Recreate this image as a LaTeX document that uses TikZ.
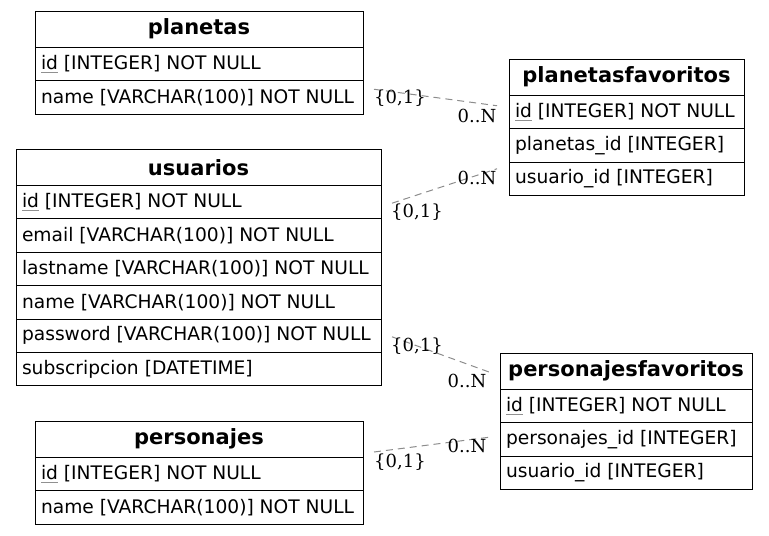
\documentclass[tikz,border=0pt]{standalone}
\usepackage{fontspec}
\setmainfont{DejaVu Sans}
\newfontfamily\serifam{DejaVu Serif}
\usetikzlibrary{calc}
\definecolor{edgegray}{HTML}{8C8C8C}
\definecolor{ulgray}{HTML}{909090}
\newcommand{\uid}{\setbox0\hbox{id}\rlap{\textcolor{ulgray}{\rule[-2.2pt]{\wd0}{0.6pt}}}id}
\tikzset{
  cell/.style={draw=black, line width=0.75pt, rectangle, anchor=north west, inner ysep=0pt, outer sep=0pt},
  hdr/.style 2 args={cell, minimum width=#1*0.75pt, minimum height=#2*0.75pt, inner xsep=0pt,
    font=\fontsize{15.75}{18}\selectfont\bfseries},
  fld/.style 2 args={cell, minimum width=#1*0.75pt, minimum height=#2*0.75pt, inner xsep=4.5pt,
    /utils/exec={\pgfmathsetlengthmacro\fldtw{(#1-12)*0.75pt}},
    execute at begin node={\hbox to \fldtw\bgroup},
    execute at end node={\hss\egroup},
    font=\fontsize{14}{16.8}\selectfont},
  rel/.style={draw=edgegray, line width=0.75pt, dash pattern=on 5.25pt off 3.75pt},
  lbl/.style={font=\serifam\fontsize{13.5}{16}\selectfont, inner sep=0pt}
}
\begin{document}
\begin{tikzpicture}[x=0.75pt, y=-0.75pt]
\useasboundingbox (0,0) rectangle (769,536);

% planetas
\node[hdr={328}{36}] (planetas) at (35,11) {planetas};
\node[fld={328}{33.5}] (planetas-id) at (35,47) {\uid{} [INTEGER] NOT NULL};
\node[fld={328}{33.5}] (planetas-name) at (35,80.5) {name [VARCHAR(100)] NOT NULL};

% planetasfavoritos
\node[hdr={235}{36}] (pf) at (509,59) {planetasfavoritos};
\node[fld={235}{33.5}] (pf-id) at (509,95) {\uid{} [INTEGER] NOT NULL};
\node[fld={235}{33.5}] (pf-planetas) at (509,128.5) {planetas\_id [INTEGER]};
\node[fld={235}{33.5}] (pf-usuario) at (509,162) {usuario\_id [INTEGER]};

% usuarios
\node[hdr={365}{36.5}] (usuarios) at (16,149) {usuarios};
\node[fld={365}{33.4}] (usuarios-id) at (16,185.5) {\uid{} [INTEGER] NOT NULL};
\node[fld={365}{33.4}] (usuarios-email) at (16,218.9) {email [VARCHAR(100)] NOT NULL};
\node[fld={365}{33.4}] (usuarios-lastname) at (16,252.3) {lastname [VARCHAR(100)] NOT NULL};
\node[fld={365}{33.4}] (usuarios-name) at (16,285.7) {name [VARCHAR(100)] NOT NULL};
\node[fld={365}{33.4}] (usuarios-password) at (16,319.1) {password [VARCHAR(100)] NOT NULL};
\node[fld={365}{33.4}] (usuarios-sub) at (16,352.5) {subscripcion [DATETIME]};

% personajesfavoritos
\node[hdr={252}{36}] (psf) at (500,353) {personajesfavoritos};
\node[fld={252}{33.5}] (psf-id) at (500,389) {\uid{} [INTEGER] NOT NULL};
\node[fld={252}{33.5}] (psf-personajes) at (500,422.5) {personajes\_id [INTEGER]};
\node[fld={252}{33.5}] (psf-usuario) at (500,456) {usuario\_id [INTEGER]};

% personajes
\node[hdr={328}{36}] (personajes) at (35,421) {personajes};
\node[fld={328}{33.5}] (personajes-id) at (35,457) {\uid{} [INTEGER] NOT NULL};
\node[fld={328}{33.5}] (personajes-name) at (35,490.5) {name [VARCHAR(100)] NOT NULL};

% relations
\draw[rel] ($(planetas-name.east)+(11,-8)$) -- ($(pf-id.west)+(-12,-6)$);
\draw[rel] ($(usuarios-id.east)+(11,1)$) -- ($(pf-usuario.west)+(-12,-10)$);
\draw[rel] ($(usuarios-password.east)+(11,1)$) -- ($(psf.west)+(-11,1)$);
\draw[rel] ($(personajes.east)+(11,13)$) -- ($(psf-personajes.west)+(-11,-2)$);

% labels
\node[lbl] (l1a) at (400,98) {\{0,1\}};
\node[lbl] (l1b) at (477,116) {0..N};
\node[lbl] (l2a) at (417,212) {\{0,1\}};
\node[lbl] (l2b) at (477,178) {0..N};
\node[lbl] (l3a) at (417,346) {\{0,1\}};
\node[lbl] (l3b) at (467,381) {0..N};
\node[lbl] (l4a) at (400,462) {\{0,1\}};
\node[lbl] (l4b) at (467,446) {0..N};
\end{tikzpicture}
\end{document}
